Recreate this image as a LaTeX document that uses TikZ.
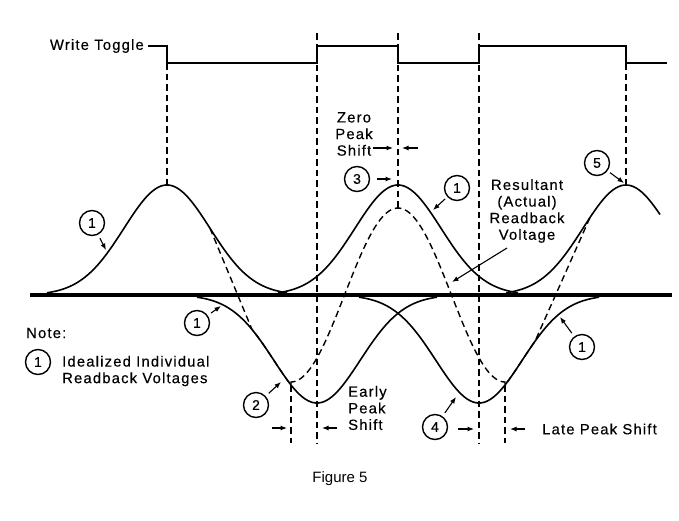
\documentclass[tikz,border=0pt]{standalone}
\usepackage{fontspec}
\setmainfont{Liberation Sans}[LetterSpace=8,FakeBold=0.4]
\newfontfamily\capfont{Liberation Sans}
\usetikzlibrary{arrows.meta}

\begin{document}
\begin{tikzpicture}[x=1pt,y=-1pt,
  lbl/.style={font=\fontsize{14.8}{16.6}\selectfont,inner sep=1pt},
  num/.style={circle,draw,line width=1.4pt,minimum size=25pt,inner sep=0pt,font=\fontsize{14}{14}\selectfont},
  wave/.style={line width=1.6pt},
  guide/.style={line width=1.4pt,dash pattern=on 6.5pt off 4pt},
  tip/.style={line width=1.1pt,-{Latex[length=6.5pt,width=5pt]}}]
  \useasboundingbox (0,0) rectangle (679,520);

  % write toggle
  \node[lbl,anchor=east] (wt) at (145,46) {Write Toggle};
  \draw[line width=1.6pt] ([xshift=3pt]wt.east) -- (167,46) -- (167,63) -- (317,63) -- (317,46)
    -- (398,46) -- (398,63) -- (479,63) -- (479,46) -- (626,46) -- (626,63) -- (667,63);

  % individual pulses
  \draw[wave] plot[domain=47:287,samples=90] (\x,{295-110*exp(-0.5*((\x-167)/43)^2)});
  \draw[wave] plot[domain=278:518,samples=90] (\x,{295-110*exp(-0.5*((\x-398)/43)^2)});
  \draw[wave] plot[domain=506:660,samples=60] (\x,{295-110*exp(-0.5*((\x-626)/43)^2)});
  \draw[wave] plot[domain=197:437,samples=90] (\x,{295+108*exp(-0.5*((\x-317)/43)^2)});
  \draw[wave] plot[domain=359:599,samples=90] (\x,{295+108*exp(-0.5*((\x-479)/43)^2)});

  % resultant
  \draw[guide] (210,{295-110*exp(-0.5*((210-167)/43)^2)})
    -- plot[domain=252:291,samples=15] (\x,{295+108*exp(-0.5*((\x-317)/43)^2)})
    -- plot[domain=291:505,samples=90] (\x,{382-87*(1+cos((\x-398)/107*180))})
    -- plot[domain=505:535,samples=15] (\x,{295+108*exp(-0.5*((\x-479)/43)^2)})
    -- (590,{295-110*exp(-0.5*((590-626)/43)^2)});

  \draw[line width=3.2pt] (30,295) -- (672,295);

  % guides
  \coordinate (p1) at (167,185);
  \coordinate (p3) at (398,208);
  \coordinate (p5) at (626,185);
  \draw[guide] (167,63) -- (p1);
  \draw[guide] (317,33) -- (317,443);
  \draw[guide] (398,33) -- (p3);
  \draw[guide] (479,33) -- (479,443);
  \draw[guide] (626,63) -- (p5);
  \draw[guide] (291,385) -- (291,443);
  \draw[guide] (505,385) -- (505,443);

  % labels
  \node[lbl,align=center] (zps) at (354,134) {Zero\\Peak\\Shift};
  \coordinate (z1) at (373,148); \coordinate (z2) at (393,148);
  \coordinate (z3) at (418,148); \coordinate (z4) at (402,148);
  \draw[tip] (z1) -- (z2);
  \draw[tip] (z3) -- (z4);

  \node[lbl,align=center] (rv) at (527,211) {Resultant\\(Actual)\\Readback\\Voltage};
  \coordinate (rvt) at (452,282);
  \draw[tip] ([xshift=-20pt,yshift=-4pt]rv.south) -- (rvt);

  \node[lbl,align=left,anchor=west] (eps) at (347,408) {Early\\Peak\\Shift};
  \coordinate (e1) at (272,428); \coordinate (e2) at (287,428);
  \coordinate (e3) at (337,428); \coordinate (e4) at (322,428);
  \draw[tip] (e1) -- (e2);
  \draw[tip] (e3) -- (e4);

  \node[lbl,anchor=west] (lps) at (541,429) {Late Peak Shift};
  \coordinate (l1) at (458,429); \coordinate (l2) at (474,429);
  \coordinate (l3) at (525,429); \coordinate (l4) at (510,429);
  \draw[tip] (l1) -- (l2);
  \draw[tip] (l3) -- (l4);

  \node[lbl,anchor=west] (note) at (25,333) {Note:};
  \node[num] (n0) at (38,362) {1};
  \node[lbl,align=left,anchor=west] (ird) at (61,371) {Idealized Individual\\Readback Voltages};

  % numbered callouts
  \node[num] (c1a) at (92,223) {1};
  \node[num] (c3) at (357,179) {3};
  \node[num] (c1b) at (457,188) {1};
  \node[num] (c5) at (597,163) {5};
  \node[num] (c1c) at (197,323) {1};
  \node[num] (c2) at (256,405) {2};
  \node[num] (c4) at (435,427) {4};
  \node[num] (c1d) at (582,347) {1};
  \coordinate (t1a) at (106,250);
  \coordinate (t3) at (392,179);
  \coordinate (t1b) at (433,210);
  \coordinate (t5) at (624,183);
  \coordinate (t1c) at (221,306);
  \coordinate (t2) at (281,382);
  \coordinate (t4) at (456,397);
  \coordinate (t1d) at (560,317);
  \draw[tip,shorten <=4pt] (c1a) -- (t1a);
  \draw[tip,shorten <=7pt] (c3) -- (t3);
  \draw[tip,shorten <=3pt] (c1b) -- (t1b);
  \draw[tip,shorten <=3pt] (c5) -- (t5);
  \draw[tip,shorten <=4pt] (c1c) -- (t1c);
  \draw[tip,shorten <=4pt] (c2) -- (t2);
  \draw[tip,shorten <=4pt] (c4) -- (t4);
  \draw[tip,shorten <=4pt] (c1d) -- (t1d);

  \node[font=\capfont\fontsize{15}{16}\selectfont] (fig) at (340,479) {Figure 5};
\end{tikzpicture}
\end{document}
